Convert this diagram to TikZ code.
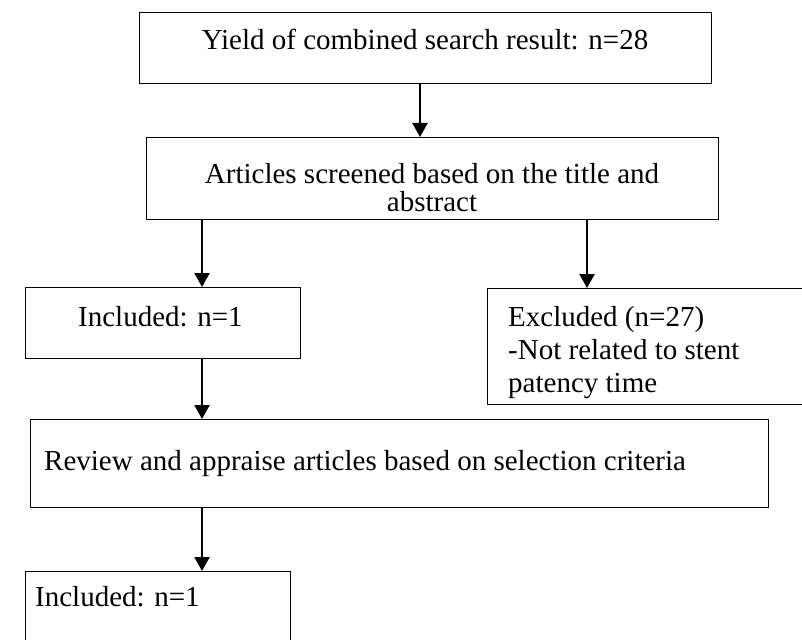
\documentclass[tikz,border=0pt]{standalone}
\usepackage{fontspec}
\setmainfont{Liberation Serif}
\usetikzlibrary{arrows.meta}
\begin{document}
\begin{tikzpicture}[x=1pt,y=-1pt,
  font=\fontsize{29}{32}\selectfont,
  box/.style={draw, line width=1.4pt, inner sep=0pt, anchor=north west},
  arr/.style={line width=2.2pt, -{Triangle[length=14pt,width=15pt]}},
  lbl/.style={inner sep=0pt, anchor=base}]
\useasboundingbox (0,0) rectangle (802,639);
\fill[white] (0,0) rectangle (802,639);
% boxes
\node[box, minimum width=572pt, minimum height=71pt] (b1) at (139,12) {};
\node[box, minimum width=572pt, minimum height=82pt] (b2) at (146,137) {};
\node[box, minimum width=275pt, minimum height=71pt] (b3) at (25,287) {};
\node[box, minimum width=320pt, minimum height=116pt] (b4) at (487,288) {};
\node[box, minimum width=738pt, minimum height=88pt] (b5) at (30,419) {};
\node[box, minimum width=265pt, minimum height=80pt] (b6) at (25,571) {};
% texts
\node[lbl] (t1) at (425,50) {Yield of combined search result: n=28};
\node[lbl] (t2a) at (432,183) {Articles screened based on the title and};
\node[lbl] (t2b) at (432,211) {abstract};
\node[lbl, anchor=base west] (t3) at (78,326) {Included: n=1};
\node[lbl, anchor=base west] (t4a) at (508,326) {Excluded (n=27)};
\node[lbl, anchor=base west] (t4b) at (508,359) {-Not related to stent};
\node[lbl, anchor=base west] (t4c) at (508,392) {patency time};
\node[lbl, anchor=base west] (t5) at (44,470) {Review and appraise articles based on selection criteria};
\node[lbl, anchor=base west] (t6) at (35,606) {Included: n=1};
% connectors
\coordinate (cx1) at (420,0);
\coordinate (cxl) at (202,0);
\coordinate (cxr) at (587,0);
\draw[arr] (b1.south -| cx1) -- (b2.north -| cx1);
\draw[arr] (b2.south -| cxl) -- (b3.north -| cxl);
\draw[arr] (b2.south -| cxr) -- (b4.north -| cxr);
\draw[arr] (b3.south -| cxl) -- (b5.north -| cxl);
\draw[arr] (b5.south -| cxl) -- (b6.north -| cxl);
\end{tikzpicture}
\end{document}
